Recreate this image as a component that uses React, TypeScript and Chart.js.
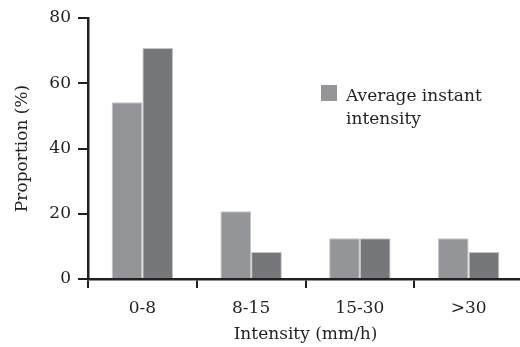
import React, { useEffect, useRef } from "react";
import { Chart, registerables } from "chart.js";

Chart.register(...registerables);

// Rainfall intensity classes (mm/h)
const categories = ["0-8", "8-15", "15-30", ">30"];
// Share of events in each class (%)
const averageInstant = [54.2, 20.8, 12.5, 12.5];
const secondSeries = [70.8, 8.3, 12.5, 8.3];
const yTicks = [0, 20, 40, 60, 80];
const legendLines = ["Average instant", "intensity"];

const INK = "#231f20";
const FONT = "'DejaVu Serif', serif";
const SIZE = 17;

const legendPlugin = {
  id: "insetLegend",
  afterDraw(chart: any) {
    const ctx = chart.ctx;
    const ds = chart.data.datasets[0];
    ctx.save();
    ctx.fillStyle = ds.backgroundColor;
    ctx.fillRect(321, 85, 16, 16);
    ctx.fillStyle = INK;
    ctx.font = `${SIZE}px ${FONT}`;
    ctx.textAlign = "left";
    ctx.textBaseline = "alphabetic";
    legendLines.forEach((line, i) => {
      ctx.fillText(line, 346, 101 + i * 23);
    });
    ctx.restore();
  },
};

export default function App() {
  const canvasRef = useRef<HTMLCanvasElement | null>(null);

  useEffect(() => {
    const canvas = canvasRef.current;
    if (!canvas) return;
    const chart = new Chart(canvas, {
      type: "bar",
      data: {
        labels: categories,
        datasets: [
          {
            label: legendLines.join(" "),
            data: averageInstant,
            backgroundColor: "#939598",
            borderColor: "#c4c5c7",
            borderWidth: 1,
            categoryPercentage: 0.565,
            barPercentage: 1,
          },
          {
            data: secondSeries,
            backgroundColor: "#76777a",
            borderColor: "#c4c5c7",
            borderWidth: 1,
            categoryPercentage: 0.565,
            barPercentage: 1,
          },
        ],
      },
      options: {
        responsive: false,
        animation: false,
        devicePixelRatio: 1,
        layout: { padding: { left: 0, top: 18, right: 7, bottom: 0 } },
        plugins: {
          legend: { display: false },
          tooltip: { enabled: false },
        },
        scales: {
          x: {
            afterFit: (scale: any) => {
              scale.height = 68;
            },
            grid: {
              offset: true,
              drawOnChartArea: false,
              drawTicks: true,
              tickLength: 9,
              color: INK,
              lineWidth: 2,
            },
            border: { display: true, color: INK, width: 2.5 },
            ticks: {
              color: INK,
              font: { family: FONT, size: SIZE },
              padding: 10,
            },
            title: {
              display: true,
              text: "Intensity (mm/h)",
              color: INK,
              font: { family: FONT, size: SIZE },
              padding: { top: 0, bottom: 2 },
            },
          },
          y: {
            min: 0,
            max: 80,
            afterFit: (scale: any) => {
              scale.width = 88;
            },
            afterBuildTicks: (scale: any) => {
              scale.ticks = yTicks.map((v) => ({ value: v }));
            },
            grid: {
              drawOnChartArea: false,
              drawTicks: true,
              tickLength: 10,
              color: INK,
              lineWidth: 2,
            },
            border: { display: true, color: INK, width: 2.5 },
            ticks: {
              color: INK,
              font: { family: FONT, size: SIZE },
              padding: 7,
            },
            title: {
              display: true,
              text: "Proportion (%)",
              color: INK,
              font: { family: FONT, size: SIZE },
              padding: { top: 12, bottom: 0 },
            },
          },
        },
      },
      plugins: [legendPlugin],
    });
    return () => chart.destroy();
  }, []);

  return (
    <div
      style={{
        position: "absolute",
        left: 0,
        top: 0,
        width: 520,
        height: 347,
        overflow: "hidden",
        background: "#ffffff",
      }}
    >
      <canvas ref={canvasRef} width={530} height={347} />
    </div>
  );
}
